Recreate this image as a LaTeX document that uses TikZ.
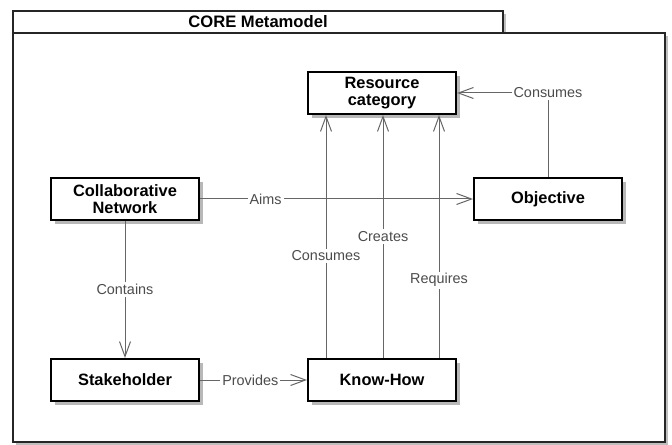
\documentclass[tikz,border=0pt]{standalone}
\usepackage{fontspec}
\setmainfont{Liberation Sans}
\usetikzlibrary{arrows.meta, positioning, shadows}

\begin{document}
\begin{tikzpicture}[
		x=1pt, y=1pt,
		node distance=50pt,
		entity/.style={draw, line width=1pt, rectangle, align=center, minimum width=74pt, minimum height=21pt, inner sep=0pt, fill=white,
			font=\fontsize{8.2pt}{8.6pt}\selectfont\bfseries,
			drop shadow={shadow xshift=1.8pt, shadow yshift=-1.8pt, fill=black!28, opacity=1}},
		assoc/.style={-{Straight Barb[length=7.5pt, width=5.5pt]}, draw=black!60, line width=0.5pt},
		reltext/.style={fill=white, inner sep=1pt, text=black!70, font=\fontsize{7.2pt}{8pt}\selectfont},
		frame/.style={draw=black!85, line width=1pt, fill=white,
			drop shadow={shadow xshift=1.5pt, shadow yshift=-1.5pt, fill=black!25, opacity=1}}
		]
		
		\useasboundingbox (0,0) rectangle (336,222);
		
		% Package frame
		\node (tab) [frame, minimum width=245pt, minimum height=11pt, inner sep=0pt,
			font=\fontsize{8.3pt}{9pt}\selectfont\bfseries] at (129,211) {CORE Metamodel};
		\draw[frame] (6.5,1) rectangle (332.5,205.5);
		
		% Resources
		\node (res) [entity] at (191,175.5) {Resource\\category};
		
		% Know-how
		\node (know) [entity, below=121.5pt of res] {Know-How};
		
		% Stakeholder
		\node (stake) [entity, left=53.5pt of know] {Stakeholder};
		
		% Network
		\node (cn) [entity, above=68.5pt of stake] {Collaborative\\Network};
		
		% Objective
		\node (obj) [entity, right=136.5pt of cn] {Objective};
		
		% Associations
		\draw[assoc] (cn) -- node[reltext, pos=0.24] {Aims} (obj);
		\draw[assoc] (cn) -- node[reltext, pos=0.5] {Contains} (stake);
		\draw[assoc] (stake) -- node[reltext, pos=0.47] {Provides} (know);
		
		\draw[assoc] ([xshift=9.5pt]know.north west) -- node[reltext, pos=0.42] {Consumes} ([xshift=9.5pt]res.south west);
		\draw[assoc] ([xshift=38pt]know.north west) -- node[reltext, pos=0.5] {Creates} ([xshift=38pt]res.south west);
		\draw[assoc] ([xshift=66pt]know.north west) -- node[reltext, pos=0.32] {Requires} ([xshift=66pt]res.south west);
		
		\draw[assoc] (obj.north) |- node[reltext, pos=0.5] {Consumes} (res.east);
		
	\end{tikzpicture}
\end{document}
